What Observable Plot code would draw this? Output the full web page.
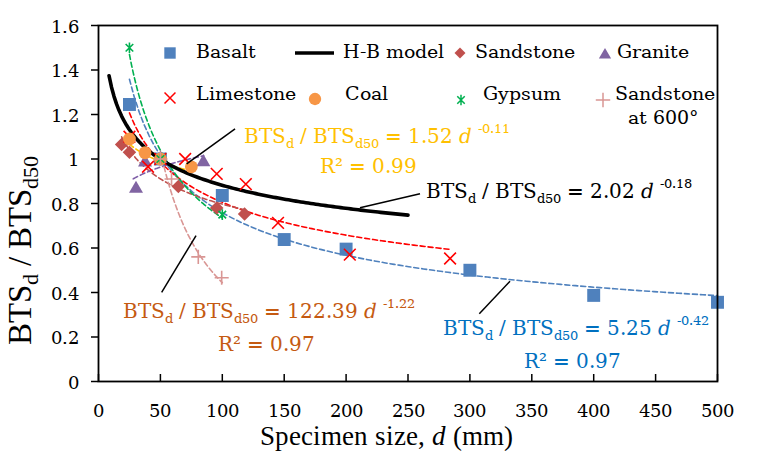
<!DOCTYPE html>
<html><head><meta charset="utf-8">
<script src="https://cdn.jsdelivr.net/npm/d3@7"></script>
<script src="https://cdn.jsdelivr.net/npm/@observablehq/plot@0.6"></script>
<style>
@font-face{font-family:"RefSerif";font-style:normal;src:local("Liberation Serif"),local("LiberationSerif"),local("LiberationSerif-Regular");}
@font-face{font-family:"RefSerif";font-style:italic;src:local("Liberation Serif Italic"),local("LiberationSerif-Italic");}
@font-face{font-family:"SmallSerif";font-style:normal;size-adjust:80%;src:local("DejaVu Serif"),local("DejaVuSerif");}
@font-face{font-family:"SmallSerif";font-style:italic;size-adjust:80%;src:local("DejaVu Serif Italic"),local("DejaVuSerif-Italic");}
html,body{margin:0;padding:0;background:#fff;}
#chart{width:757px;height:455px;}
#chart svg text, #chart svg tspan{white-space:pre;}
</style></head><body><div id="chart"></div>
<script>
// ---- axes ----
const xTicks = [0,50,100,150,200,250,300,350,400,450,500];
const yTicks = [0,0.2,0.4,0.6,0.8,1,1.2,1.4,1.6];
const yTickLabels = ["0","0.2","0.4","0.6","0.8","1","1.2","1.4","1.6"];

// ---- measured series (d in mm, BTSd/BTSd50) ----
const basaltD = [25,50,100,150,200,300,400,500];
const basaltR = [1.245,1.0,0.836,0.638,0.595,0.5,0.387,0.356];
const sandstoneD = [18.7,25,50,64.5,95.5,118];
const sandstoneR = [1.065,1.03,1.0,0.876,0.78,0.753];
const graniteD = [30.3,37.6,50,84.7];
const graniteR = [0.866,0.985,1.0,0.986];
const limestoneD = [25,40,50,70,95.5,119,145,203,284];
const limestoneR = [1.1,0.965,1.0,1.0,0.933,0.887,0.713,0.57,0.553];
const coalD = [25,37.6,50,75];
const coalR = [1.09,1.028,1.0,0.965];
const gypsumD = [25,50,100];
const gypsumR = [1.5,1.0,0.75];
const sand600D = [50,59,80.6,99.5];
const sand600R = [1.0,0.91,0.56,0.466];

// ---- power-law trend lines  y = a * d^b ----
const fitNames = ["Basalt","Limestone","Sandstone","Granite","Coal","Gypsum","Sandstone at 600°"];
const fitA     = [5.25, 3.09, 1.93, 0.658, 1.52, 7.35, 122.39];
const fitB     = [-0.42, -0.292, -0.192, 0.0975, -0.11, -0.5, -1.22];
const fitFrom  = [25, 25, 18.7, 28, 25, 25, 50];
const fitTo    = [500, 285, 118, 85, 75, 100, 100];
const fitColor = ["#4F81BD","#FF0000","#C0504D","#7F5FA8","#FFC000","#00B050","#D99694"];
// H-B model
const hbA = 2.02, hbB = -0.18, hbFrom = 8.5, hbTo = 250;

const pts = (D, R) => D.map((d, i) => ({d, r: R[i]}));
const curve = (a, b, from, to) => {
  const n = 120, out = [];
  for (let k = 0; k <= n; k++) { const d = from + (to - from) * k / n; out.push({d, r: a * Math.pow(d, b)}); }
  return out;
};

const starSymbol = {draw(ctx, size){ const r = Math.sqrt(size) * 0.62; const q = r * 0.72;
  ctx.moveTo(0,-r); ctx.lineTo(0,r); ctx.moveTo(-q,-q); ctx.lineTo(q,q); ctx.moveTo(-q,q); ctx.lineTo(q,-q); }};

const fitMarks = fitNames.map((n, i) => Plot.line(curve(fitA[i], fitB[i], fitFrom[i], fitTo[i]),
  {x:"d", y:"r", stroke: fitColor[i], strokeWidth: 1.6, strokeDasharray: "5,3"}));

// annotation equations (anchors in data units)
const eqA   = ["1.52","2.02","122.39","5.25"];
const eqB   = ["-0.11","-0.18","-1.22","-0.42"];
const eqCol = ["#FFC000","#000000","#C55A11","#0070C0"];
const eqX   = [118.3, 265.3, 19.8, 278.3];
const eqY   = [1.07, 0.822, 0.283, 0.207];
const r2Txt = ["0.99", null, "0.97", "0.97"];
const r2X   = [218.5, null, 136.1, 382.9];
const r2Y   = [0.935, null, 0.135, 0.058];
const leaders = [
  {x1:71.2, y1:0.978, x2:110.3, y2:1.135},
  {x1:211.2, y1:0.781, x2:259.7, y2:0.844},
  {x1:51, y1:0.401, x2:78.8, y2:0.656},
  {x1:307.6, y1:0.304, x2:332.4, y2:0.451}
];

const FONT_L = '"RefSerif","DejaVu Serif",serif';
const FONT_S = '"SmallSerif","DejaVu Serif",serif';

const svg = Plot.plot({
  width: 757, height: 455,
  marginLeft: 98, marginRight: 40, marginTop: 25, marginBottom: 74,
  style: {fontFamily: FONT_S, fontSize: "22px", color: "#000", background: "#fff"},
  x: {domain: [0, 500]},
  y: {domain: [0, 1.6]},
  marks: [
    Plot.axisY({ticks: yTicks, tickFormat: d => yTickLabels[yTicks.findIndex(t => Math.abs(t - d) < 1e-9)],
      tickSize: 7, tickPadding: 13, label: null, fontSize: 22, strokeWidth: 1.5}),
    Plot.axisX({ticks: xTicks, tickFormat: d => String(d), tickSize: 0, tickPadding: 20, label: null, fontSize: 22}),
    Plot.axisX({ticks: xTicks, tickFormat: () => "", tickSize: -7, label: null, strokeWidth: 1.5}),
    ...fitMarks,
    Plot.dot(pts(basaltD, basaltR), {x:"d", y:"r", symbol:"square", r:7.3, fill:"#4F81BD"}),
    Plot.line(curve(hbA, hbB, hbFrom, hbTo), {x:"d", y:"r", stroke:"#000", strokeWidth:3.6}),
    Plot.dot(pts(sandstoneD, sandstoneR), {x:"d", y:"r", symbol:"square", r:5.4, rotate:45, fill:"#C0504D"}),
    Plot.dot(pts(graniteD, graniteR), {x:"d", y:"r", symbol:"triangle", r:5.2, fill:"#8064A2"}),
    Plot.dot(pts(limestoneD, limestoneR), {x:"d", y:"r", symbol:"times", r:5.4, stroke:"#FF0000", strokeWidth:1.6}),
    Plot.dot(pts(coalD, coalR), {x:"d", y:"r", symbol:"circle", r:6.4, fill:"#F79646"}),
    Plot.dot(pts(gypsumD, gypsumR), {x:"d", y:"r", symbol:starSymbol, r:4.8, stroke:"#00B050", strokeWidth:1.6}),
    Plot.dot(pts(sand600D, sand600R), {x:"d", y:"r", symbol:"plus", r:4.6, stroke:"#D99694", strokeWidth:1.6}),
    Plot.link(leaders, {x1:"x1", y1:"y1", x2:"x2", y2:"y2", stroke:"#000", strokeWidth:1.5}),
    Plot.frame({stroke:"#000", strokeWidth:1.8})
  ]
});

const X = svg.scale("x"), Y = svg.scale("y");
const root = d3.select(svg);

function rich(sel, x, y, parts, size, color, font, anchor = "start", transform = null) {
  const t = sel.append("text").attr("x", x).attr("y", y).attr("fill", color)
    .attr("font-size", size).attr("font-family", font).attr("text-anchor", anchor);
  if (transform) t.attr("transform", transform);
  let cur = 0;
  for (const [s, kind] of parts) {
    const off = kind === "sub" ? 0.22 * size : kind === "sup" ? -0.42 * size : 0;
    const ts = t.append("tspan").text(s).attr("dy", off - cur);
    cur = off;
    if (kind === "sub" || kind === "sup") ts.attr("font-size", size * 0.68);
    if (kind === "i") ts.attr("font-style", "italic");
  }
  return t;
}
const eqParts = (a, b) => [["BTS"],["d","sub"],[" / BTS"],["d50","sub"],[" = " + a + " "],["d","i"],[" "],[b,"sup"]];

const ann = root.append("g");
eqA.forEach((a, i) => {
  rich(ann, X.apply(eqX[i]), Y.apply(eqY[i]), eqParts(a, eqB[i]), 24.5, eqCol[i], FONT_S);
  if (r2Txt[i]) rich(ann, X.apply(r2X[i]), Y.apply(r2Y[i]), [["R² = " + r2Txt[i]]], 24.5, eqCol[i], FONT_S, "middle");
});

// axis titles
rich(root, 386, 445, [["Specimen size, "],["d","i"],[" (mm)"]], 27, "#000", FONT_L, "middle");
rich(root, 0, 0, [["BTS"],["d","sub"],[" / BTS"],["d50","sub"]], 33, "#000", FONT_L, "middle", "translate(31,250) rotate(-90)");

// legend
const legNames = ["Basalt","H-B model","Sandstone","Granite","Limestone","Coal","Gypsum","Sandstone"];
const lg = root.append("g");
const legSym = [
  {x:170, y:53, sym:d3.symbolSquare, size:130, fill:"#4F81BD"},
  null,
  {x:460, y:53, sym:d3.symbolSquare, size:60, fill:"#C0504D", rot:45},
  {x:605, y:55, sym:d3.symbolTriangle, size:65, fill:"#8064A2"},
  {x:170, y:98, sym:d3.symbolTimes, size:80, stroke:"#FF0000"},
  {x:315, y:99, sym:d3.symbolCircle, size:120, fill:"#F79646"},
  {x:461, y:100, sym:starSymbol, size:70, stroke:"#00B050"},
  {x:603, y:100, sym:d3.symbolPlus, size:70, stroke:"#D99694"}
];
const legTextX = [196, 343, 475, 617, 196, 345, 483, 615];
const legTextY = [58, 58, 58, 58, 100, 100, 100, 100];
legSym.forEach((s, i) => {
  if (s) lg.append("path").attr("d", d3.symbol(s.sym, s.size)())
    .attr("transform", `translate(${s.x},${s.y}) rotate(${s.rot || 0})`)
    .attr("fill", s.fill || "none").attr("stroke", s.stroke || "none").attr("stroke-width", 1.5);
  lg.append("text").attr("x", legTextX[i]).attr("y", legTextY[i]).attr("font-size", 23.5).attr("font-family", FONT_S)
    .attr("text-anchor", "start").attr("fill", "#000").text(legNames[i]);
});
lg.append("line").attr("x1", 295).attr("x2", 334).attr("y1", 53).attr("y2", 53).attr("stroke", "#000").attr("stroke-width", 3.6);
lg.append("text").attr("x", 628).attr("y", 124).attr("font-size", 23.5).attr("font-family", FONT_S).attr("text-anchor", "start").text("at 600°");

document.getElementById("chart").appendChild(svg);
</script>
</body></html>
